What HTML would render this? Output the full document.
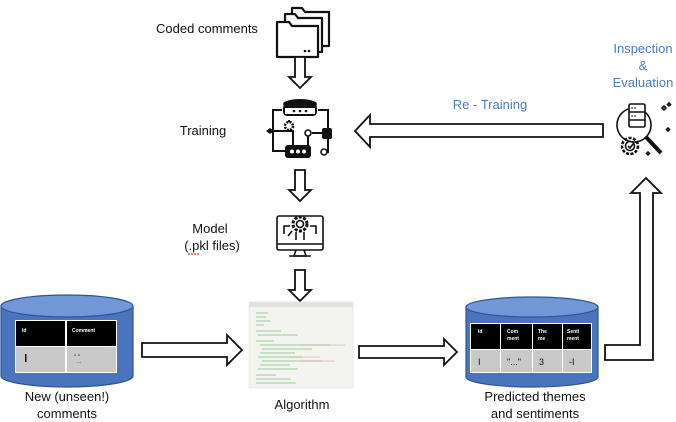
<!DOCTYPE html>
<html><head><meta charset="utf-8"><style>
html,body{margin:0;padding:0;background:#fff;}
svg{display:block;font-family:"Liberation Sans","DejaVu Sans",sans-serif;}
</style></head><body>
<svg width="676" height="422" viewBox="0 0 676 422" xmlns="http://www.w3.org/2000/svg">
<!-- Texts -->
<g font-size="13" fill="#111">
<text x="207" y="33" text-anchor="middle">Coded comments</text>
<text x="203" y="135" text-anchor="middle">Training</text>
<text x="210" y="233" text-anchor="middle">Model</text>
<text x="212" y="250" text-anchor="middle">(.pkl files)</text>
<text x="302" y="409" text-anchor="middle">Algorithm</text>
<text x="67" y="401" text-anchor="middle">New (unseen!)</text>
<text x="67" y="418" text-anchor="middle">comments</text>
<text x="535" y="401" text-anchor="middle">Predicted themes</text>
<text x="535" y="418" text-anchor="middle">and sentiments</text>
</g>
<line x1="188" y1="254" x2="200" y2="254" stroke="#d00" stroke-width="1" stroke-dasharray="2,1"/>
<g font-size="13" fill="#4a7cc0">
<text x="490" y="109" text-anchor="middle">Re - Training</text>
<text x="643" y="53" text-anchor="middle">Inspection</text>
<text x="643" y="70" text-anchor="middle">&amp;</text>
<text x="643" y="87" text-anchor="middle">Evaluation</text>
</g>

<!-- Folder icon -->
<g fill="#fff" stroke="#111" stroke-width="2.2" stroke-linejoin="round">
<path d="M292 8 h10 l3 4 h24 v34 h-37 z"/>
<path d="M285 14 h10 l3 4 h24 v34 h-37 z"/>
<path d="M277 22 h12 l3 4 h26 v31 h-41 z"/>
</g>
<circle cx="305" cy="51" r="1.3" fill="#111"/><circle cx="309" cy="51" r="1.3" fill="#111"/>

<!-- Down arrows -->
<g fill="#fff" stroke="#111" stroke-width="1.8">
<path d="M295 57 h10 v20 h6 l-11 11 l-11 -11 h6 z"/>
<path d="M295 170 h10 v20 h6 l-11 11 l-11 -11 h6 z"/>
<path d="M295 270 h10 v20 h6 l-11 11 l-11 -11 h6 z"/>
</g>

<!-- Training icon -->
<g stroke="#111" stroke-width="2" fill="none">
<path d="M282 110 h-9 v41 h12"/>
<path d="M318 110 h10 v20"/>
<path d="M312 133 h12"/>
<path d="M328 138 v14 h-4"/>
<path d="M273 131 h20 v14"/>
<path d="M308 135 v10"/>
<path d="M289 120 v8"/>
</g>
<ellipse cx="300" cy="104" rx="17" ry="5" fill="#111"/>
<rect x="283" y="104" width="34" height="12" rx="4" fill="#111"/>
<rect x="285" y="108" width="30" height="6" fill="#fff"/>
<circle cx="294" cy="111" r="1.3" fill="#111"/><circle cx="300" cy="111" r="1.3" fill="#111"/><circle cx="306" cy="111" r="1.3" fill="#111"/>
<circle cx="289" cy="126" r="4" fill="#fff" stroke="#111" stroke-width="2.5" stroke-dasharray="2,1.2"/>
<rect x="322" y="128" width="10" height="11" rx="2" fill="#111"/>
<circle cx="308" cy="133" r="3" fill="#fff" stroke="#111" stroke-width="1.6"/>
<circle cx="324" cy="152" r="3" fill="#fff" stroke="#111" stroke-width="1.6"/>
<path d="M266 131 l4 -3 l4 3 l-4 3 z" fill="#111"/>
<rect x="285" y="145" width="26" height="13" rx="3" fill="#111"/>
<circle cx="292" cy="151.5" r="2" fill="#fff"/><circle cx="298" cy="151.5" r="2" fill="#fff"/><circle cx="304" cy="151.5" r="2" fill="#fff"/>

<!-- Model icon -->
<g stroke="#111" stroke-width="1.6" fill="none">
<rect x="277" y="216" width="46" height="34" rx="2"/>
<path d="M277 244 h46"/>
<path d="M296 250 l-2 6 h12 l-2 -6"/>
<path d="M289 256 h22"/>
<circle cx="300" cy="224" r="7" stroke-width="3" stroke-dasharray="3,1.5"/>
<circle cx="300" cy="224" r="3.5"/>
<path d="M290 226 h-6 v8 M310 226 h6 v8 M296 232 v8 M304 232 v8 M292 231 l-4 5"/>
</g>

<!-- Algorithm screenshot -->
<rect x="249" y="302" width="104" height="86" fill="#f3f3f0" stroke="#ddd" stroke-width="0.5"/>
<rect x="249" y="302" width="104" height="5" fill="#e2e2e2"/>
<g stroke="#7fbf7f" stroke-width="0.8">
<path d="M256 313 h12 M256 317 h10 M256 321 h14 M256 325 h8 M256 331 h25 M258 335 h40 M256 341 h18 M260 345 h70 M262 349 h50 M260 353 h35 M258 357 h45 M262 361 h60 M260 365 h30 M258 369 h40 M256 375 h20 M256 379 h35 M256 383 h40"/>
</g>
<g stroke="#d49a9a" stroke-width="0.6"><path d="M300 345 h45 M290 357 h30 M300 361 h35"/></g>

<!-- Left cylinder -->
<path d="M1 306 v70 a66 11 0 0 0 132 0 v-70 z" fill="#4a74bd" stroke="#2f5597" stroke-width="1.2"/>
<ellipse cx="67" cy="306" rx="66" ry="11" fill="#7197d6" stroke="#2f5597" stroke-width="1.2"/>
<rect x="15" y="320" width="102" height="53" fill="#fff"/>
<rect x="16" y="321" width="49" height="25" fill="#000"/>
<rect x="67" y="321" width="49" height="25" fill="#000"/>
<rect x="16" y="347" width="49" height="25" fill="#c9c9c9"/>
<rect x="67" y="347" width="49" height="25" fill="#c9c9c9"/>
<text x="22" y="332" font-size="5" font-weight="bold" fill="#fff">Id</text>
<text x="72" y="332" font-size="5" font-weight="bold" fill="#fff">Comment</text>
<rect x="25" y="354" width="1.5" height="8" fill="#111"/>
<text x="74" y="359" font-size="6" fill="#111">" "</text>
<text x="77" y="363" font-size="5" fill="#111">...</text>

<!-- Right cylinder -->
<path d="M466 307 v70 a66 10 0 0 0 132 0 v-70 z" fill="#4a74bd" stroke="#2f5597" stroke-width="1.2"/>
<ellipse cx="532" cy="307" rx="66" ry="10" fill="#7197d6" stroke="#2f5597" stroke-width="1.2"/>
<rect x="470" y="323" width="122" height="50" fill="#fff"/>
<g fill="#000">
<rect x="471" y="324" width="29" height="25"/><rect x="501" y="324" width="31" height="25"/>
<rect x="533" y="324" width="29" height="25"/><rect x="563" y="324" width="28" height="25"/>
</g>
<g fill="#c9c9c9">
<rect x="471" y="350" width="29" height="22"/><rect x="501" y="350" width="31" height="22"/>
<rect x="533" y="350" width="29" height="22"/><rect x="563" y="350" width="28" height="22"/>
</g>
<g font-size="5" font-weight="bold" fill="#fff">
<text x="478" y="333">Id</text>
<text x="507" y="333">Com</text><text x="507" y="340">ment</text>
<text x="538" y="333">The</text><text x="538" y="340">me</text>
<text x="567" y="333">Senti</text><text x="567" y="340">ment</text>
</g>
<g font-size="9" fill="#111">
<text x="478" y="365">I</text>
<text x="507" y="365">"..."</text>
<text x="539" y="365">3</text>
<text x="569" y="365">-I</text>
</g>

<!-- Right arrows -->
<g fill="#fff" stroke="#111" stroke-width="1.8">
<path d="M142 343 h85 v-8 l15 15 l-15 15 v-8 h-85 z"/>
<path d="M359 346 h85 v-7 l13 13 l-13 13 v-7 h-85 z"/>
<!-- elbow arrow up -->
<path d="M605 345 h35 v-152 h-9 l15 -15 l15 15 h-8 v167 h-48 z"/>
<!-- re-training left arrow -->
<path d="M603 124 v13 h-233 v10 l-15 -16 l15 -16 v9 z"/>
</g>

<!-- Inspection icon -->
<g stroke="#111" stroke-width="1.6" fill="none">
<circle cx="634" cy="125" r="17"/>
<rect x="629" y="104" width="16" height="23" rx="1.5" fill="#fff"/>
<path d="M629 112 h16 M629 120 h16"/>
<path d="M646 137 l15 16" stroke-width="4"/>
<circle cx="630" cy="146" r="8" stroke-width="2.6" stroke-dasharray="3,1.5"/>
<circle cx="630" cy="146" r="4.5" fill="#fff"/>
<path d="M628 146 l2 2 l3 -4"/>
<path d="M664 106 l2 2 l-2 2 l-2 -2 z M669 103 l1.5 1.5 l-1.5 1.5 l-1.5 -1.5 z M668 128 l1.5 1.5 l-1.5 1.5 l-1.5 -1.5 z M648 152 l1.5 1.5 l-1.5 1.5 l-1.5 -1.5 z"/>
</g>
<circle cx="632" cy="108" r="0.8" fill="#111"/><circle cx="635" cy="108" r="0.8" fill="#111"/><circle cx="632" cy="116" r="0.8" fill="#111"/><circle cx="635" cy="116" r="0.8" fill="#111"/>
</svg>
</body></html>
